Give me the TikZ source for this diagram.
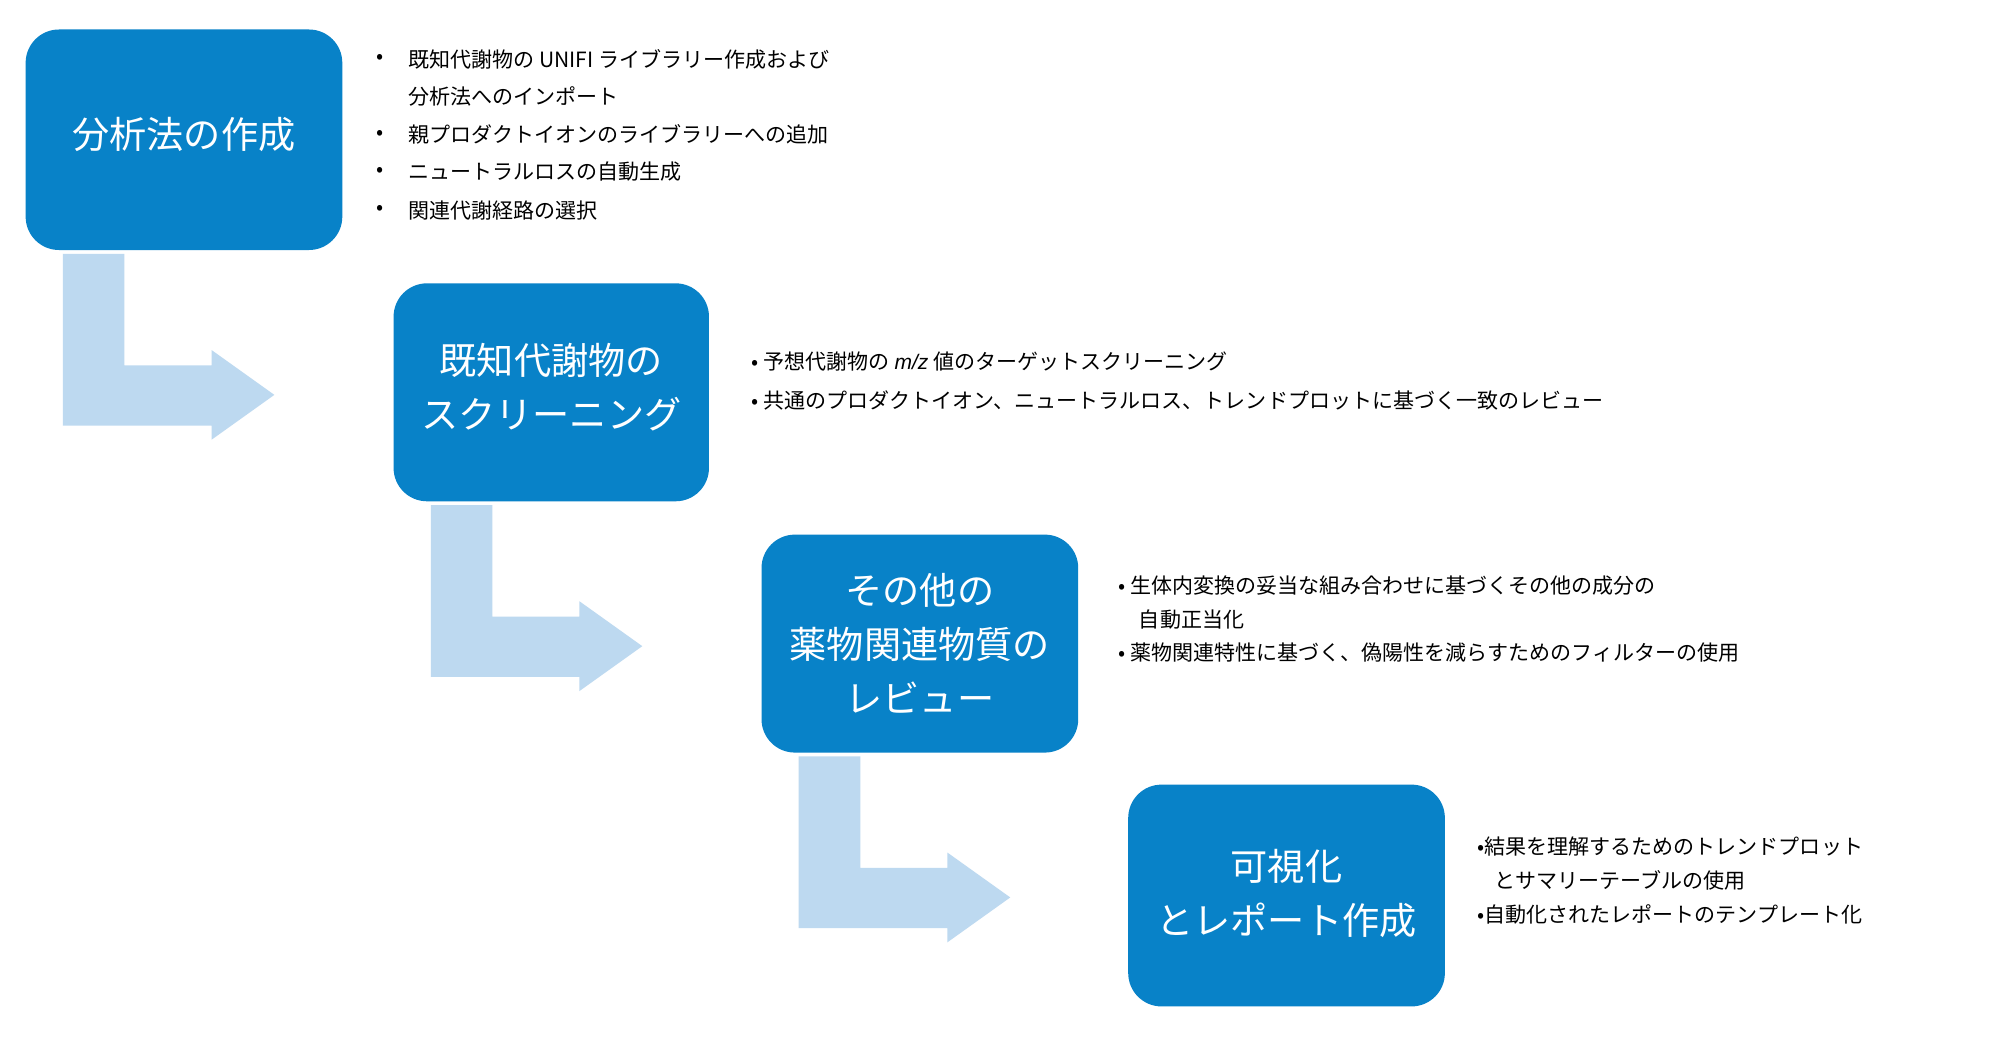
\documentclass[tikz,border=0pt]{standalone}
\usepackage{fontspec}
\setmainfont{Noto Sans CJK JP}
\newfontfamily\latinit{Liberation Sans}
\definecolor{boxblue}{RGB}{8,130,200}
\definecolor{arrblue}{RGB}{189,217,240}
\begin{document}
\begin{tikzpicture}[x=0.5pt,y=-0.5pt,
  stagebox/.style={draw=none,fill=boxblue,rounded corners=13pt},
  title/.style={text=white,font=\fontsize{14.5pt}{21pt}\selectfont,align=center},
  bul/.style={anchor=west,font=\fontsize{8.2pt}{10pt}\selectfont,inner sep=0pt},
  flow/.style={fill=arrblue,draw=none}]
\useasboundingbox (0,0) rectangle (1560,809);
\fill[white] (0,0) rectangle (1560,809);
% arrows
\foreach \dx/\dy in {0/0,287/196,574/392}{
  \fill[flow,shift={(\dx,\dy)}] (49,198) -- (97,198) -- (97,285) -- (165,285) -- (165,273) -- (214,308) -- (165,343) -- (165,332) -- (49,332) -- cycle;
}
% boxes
\fill[stagebox] (20,23) rectangle (267,195);
\node[title] (t1) at (143.5,105) {分析法の作成};
\fill[stagebox] (307,221) rectangle (553,391);
\node[title] (t2) at (430,302) {既知代謝物の\\スクリーニング};
\fill[stagebox] (594,417) rectangle (841,587);
\node[title] (t3) at (717.5,502) {その他の\\薬物関連物質の\\レビュー};
\fill[stagebox] (880,612) rectangle (1127,785);
\node[title] (t4) at (1003.5,697) {可視化\\とレポート作成};
% bullets 1
\foreach \y/\b/\t in {46/1/既知代謝物の UNIFI ライブラリー作成および,75/0/分析法へのインポート,105/1/親プロダクトイオンのライブラリーへの追加,134/1/ニュートラルロスの自動生成,164/1/関連代謝経路の選択}{
  \node[bul] (a\y) at (318,\y) {\t};
  \ifnum\b=1 \node[bul] (ab\y) at (293,\y) {•};\fi
}
% bullets 2
\node[bul] (b1) at (586,282) {• 予想代謝物の {\latinit\itshape m/z} 値のターゲットスクリーニング};
\node[bul] (b2) at (586,312) {• 共通のプロダクトイオン、ニュートラルロス、トレンドプロットに基づく一致のレビュー};
% bullets 3
\node[bul] (c1) at (872,457) {• 生体内変換の妥当な組み合わせに基づくその他の成分の};
\node[bul] (c2) at (888,483) {自動正当化};
\node[bul] (c3) at (872,509) {• 薬物関連特性に基づく、偽陽性を減らすためのフィルターの使用};
% bullets 4
\node[bul] (d1) at (1152,660) {•結果を理解するためのトレンドプロット};
\node[bul] (d2) at (1165,687) {とサマリーテーブルの使用};
\node[bul] (d3) at (1152,713) {•自動化されたレポートのテンプレート化};
\end{tikzpicture}
\end{document}
